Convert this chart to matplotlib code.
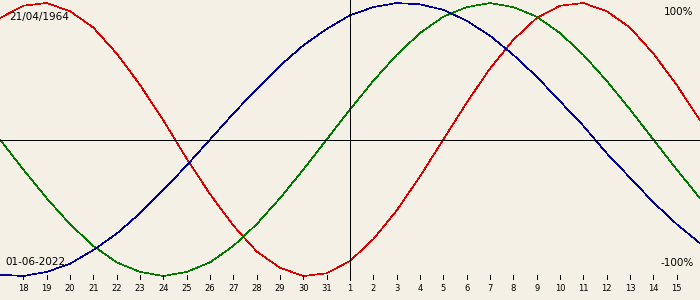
import matplotlib
matplotlib.use("Agg")
import matplotlib.pyplot as plt

# biorhythm values read per day, index 0 = 17 May 2022 ... 30 = 16 June 2022
physical = [0.89, 0.98, 1.00, 0.94, 0.82, 0.63, 0.40, 0.14, -0.14, -0.40,
            -0.63, -0.82, -0.94, -1.00, -0.98, -0.89, -0.73, -0.52, -0.27, 0.00,
            0.27, 0.52, 0.73, 0.89, 0.98, 1.00, 0.94, 0.82, 0.63, 0.40, 0.14]
emotional = [0.00, -0.22, -0.43, -0.62, -0.78, -0.90, -0.97, -1.00, -0.97, -0.90,
             -0.78, -0.62, -0.43, -0.22, 0.00, 0.22, 0.43, 0.62, 0.78, 0.90,
             0.97, 1.00, 0.97, 0.90, 0.78, 0.62, 0.43, 0.22, 0.00, -0.22, -0.43]
intellectual = [-0.99, -1.00, -0.97, -0.91, -0.81, -0.69, -0.54, -0.37, -0.19, 0.00,
                0.19, 0.37, 0.54, 0.69, 0.81, 0.91, 0.97, 1.00, 0.99, 0.95,
                0.87, 0.76, 0.62, 0.46, 0.28, 0.10, -0.10, -0.28, -0.46, -0.62, -0.76]

day_labels = [str(d) for d in range(18, 32)] + [str(d) for d in range(1, 16)]
today_index = 15
birth_text = "21/04/1964"
date_text = "01-06-2022"

bg = "#f4f0e6"
fig = plt.figure(figsize=(7, 3), dpi=100, facecolor=bg)
ax = fig.add_axes([0, 0, 1, 1])
ax.set_facecolor(bg)
ax.set_xlim(0, 30)
ax.set_ylim(-1.1758, 1.022)
ax.axis("off")

days = list(range(len(physical)))
lw = 0.6
clw = 0.45
ax.plot(days, physical, color="#dd0000", lw=clw, antialiased=False)
ax.plot(days, emotional, color="#007a00", lw=clw, antialiased=False)
ax.plot(days, intellectual, color="#000099", lw=clw, antialiased=False)

# axes lines
ax.axhline(0, color="black", lw=lw, antialiased=False)
ax.vlines(today_index, -1.029, 1.022, color="black", lw=lw, antialiased=False)

# day ticks
tick_pos = list(range(1, 1 + len(day_labels)))
ax.vlines(tick_pos, -1.0256, -0.9927, color="black", lw=lw, antialiased=False)
for x, lab in zip(tick_pos, day_labels):
    ax.text(x, -1.088, lab, ha="center", va="center", fontsize=6,
            color="black")

ax.text(0.0129, 0.943, birth_text, transform=ax.transAxes, ha="left", va="center", fontsize=7.5)
ax.text(0.990, 0.960, "100%", transform=ax.transAxes, ha="right", va="center", fontsize=7.5)
ax.text(0.007, 0.127, date_text, transform=ax.transAxes, ha="left", va="center", fontsize=7.5)
ax.text(0.991, 0.125, "-100%", transform=ax.transAxes, ha="right", va="center", fontsize=7.5)

fig.savefig("out.png", dpi=100, facecolor=bg)
